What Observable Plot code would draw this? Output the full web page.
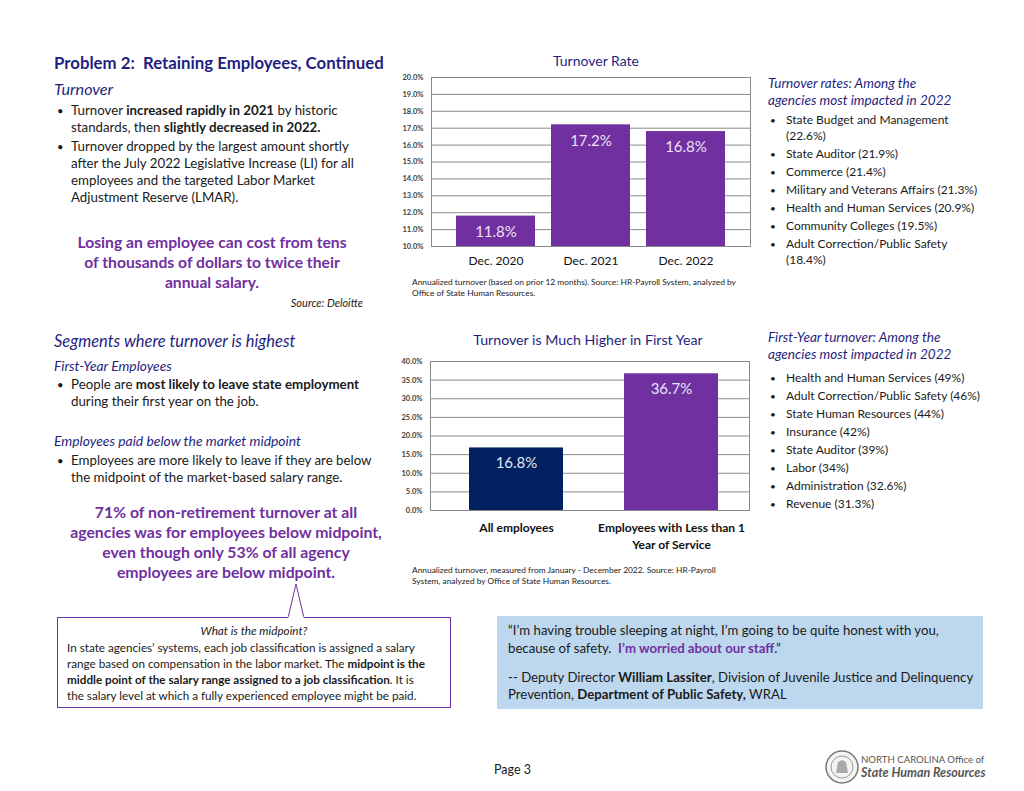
<!DOCTYPE html>
<html>
<head>
<meta charset="utf-8">
<script src="https://cdn.jsdelivr.net/npm/d3@7"></script>
<script src="https://cdn.jsdelivr.net/npm/@observablehq/plot@0.6"></script>
<style>
  html, body { margin: 0; padding: 0; background: #fff; }
  #page { position: relative; width: 1024px; height: 791px; overflow: hidden; font-family: Lato, "Open Sans", sans-serif; color: #1a1a1a; }
  .t { position: absolute; white-space: nowrap; line-height: 1; }
  .navy { color: #1f1f80; }
  .it { font-style: italic; }
  .purple { color: #7030A0; font-weight: bold; }
  .box { position: absolute; box-sizing: border-box; }
  .chart { position: absolute; }
</style>
</head>
<body>
<div id="page"></div>
<script>
// ---------------- data ----------------
const turnoverPeriods = ["Dec. 2020", "Dec. 2021", "Dec. 2022"];
const turnoverRates = [11.8, 17.2, 16.8];
const turnoverTicks = [10, 11, 12, 13, 14, 15, 16, 17, 18, 19, 20];

const segmentGroups = ["All employees", "Employees with Less than 1 Year of Service"];
const segmentTickLabels = ["All employees", "Employees with Less than 1\nYear of Service"];
const segmentRates = [16.8, 36.7];
const segmentTicks = [0, 5, 10, 15, 20, 25, 30, 35, 40];

const agencies2022 = ["State Budget and Management", "(22.6%)", "State Auditor (21.9%)", "Commerce (21.4%)",
  "Military and Veterans Affairs (21.3%)", "Health and Human Services (20.9%)", "Community Colleges (19.5%)",
  "Adult Correction/Public Safety", "(18.4%)"];
const firstYearAgencies = ["Health and Human Services (49%)", "Adult Correction/Public Safety (46%)",
  "State Human Resources (44%)", "Insurance (42%)", "State Auditor (39%)", "Labor (34%)",
  "Administration (32.6%)", "Revenue (31.3%)"];

// ---------------- helpers ----------------
const page = document.getElementById("page");
function txt(x, cy, html, size, cls = "", extra = {}) {
  const d = document.createElement("div");
  d.className = "t " + cls;
  d.style.fontSize = size + "px";
  d.style.top = (cy - size / 2) + "px";
  if (extra.center) { d.style.left = (x - 300) + "px"; d.style.width = "600px"; d.style.textAlign = "center"; }
  else if (extra.right) { d.style.right = (1024 - x) + "px"; }
  else d.style.left = x + "px";
  if (extra.color) d.style.color = extra.color;
  if (extra.weight) d.style.fontWeight = extra.weight;
  d.innerHTML = html;
  page.appendChild(d);
  return d;
}
function bullet(x, tx, cy, html, size) {
  txt(x, cy, "•", size * 0.85);
  txt(tx, cy, html, size);
}

// ---------------- left column ----------------
txt(54, 63, "Problem 2:&nbsp; Retaining Employees, Continued", 16.8, "navy", {weight: "bold"});
txt(54, 89, "Turnover", 16.2, "navy it");
bullet(57, 71, 111, "Turnover <b>increased rapidly in 2021</b> by historic", 13.3);
txt(71, 128, "standards, then <b>slightly decreased in 2022.</b>", 13.3);
bullet(57, 71, 147, "Turnover dropped by the largest amount shortly", 13.3);
txt(71, 164, "after the July 2022 Legislative Increase (LI) for all", 13.3);
txt(71, 181, "employees and the targeted Labor Market", 13.3);
txt(71, 198, "Adjustment Reserve (LMAR).", 13.3);
txt(212, 243, "Losing an employee can cost from tens", 15.7, "purple", {center: true});
txt(212, 263, "of thousands of dollars to twice their", 15.7, "purple", {center: true});
txt(212, 283, "annual salary.", 15.7, "purple", {center: true});
txt(363, 302, "Source: Deloitte", 11, "it", {right: true});

txt(54, 341, "Segments where turnover is highest", 16.5, "navy it");
txt(54, 366, "First-Year Employees", 13.8, "navy it");
bullet(57, 71, 385, "People are <b>most likely to leave state employment</b>", 13.3);
txt(71, 402, "during their first year on the job.", 13.3);
txt(54, 441, "Employees paid below the market midpoint", 13.9, "navy it");
bullet(57, 71, 461, "Employees are more likely to leave if they are below", 13.3);
txt(71, 478, "the midpoint of the market-based salary range.", 13.3);
txt(226, 512, "71% of non-retirement turnover at all", 15.8, "purple", {center: true});
txt(226, 532, "agencies was for employees below midpoint,", 15.8, "purple", {center: true});
txt(226, 552, "even though only 53% of all agency", 15.8, "purple", {center: true});
txt(226, 572, "employees are below midpoint.", 15.8, "purple", {center: true});

// ---------------- right lists ----------------
txt(768, 84, "Turnover rates: Among the", 13.6, "navy it");
txt(768, 101, "agencies most impacted in 2022", 13.6, "navy it");
const l1y = [120, 136, 154, 172, 190, 208, 226, 244, 260];
agencies2022.forEach((a, i) => {
  if (!a.startsWith("(")) txt(770, l1y[i], "•", 10);
  txt(786, l1y[i], a, 12);
});
txt(768, 338, "First-Year turnover: Among the", 13.6, "navy it");
txt(768, 355, "agencies most impacted in 2022", 13.6, "navy it");
firstYearAgencies.forEach((a, i) => {
  txt(770, 378 + i * 18, "•", 10);
  txt(786, 378 + i * 18, a, 12);
});

// ---------------- chart titles / captions ----------------
txt(596, 61, "Turnover Rate", 14, "navy", {center: true});
txt(412, 282, "Annualized turnover (based on prior 12 months). Source: HR-Payroll System, analyzed by", 8.4);
txt(412, 293, "Office of State Human Resources.", 8.4);
txt(588, 340, "Turnover is Much Higher in First Year", 14.2, "navy", {center: true});
txt(412, 570, "Annualized turnover, measured from January - December 2022. Source: HR-Payroll", 8.4);
txt(412, 581, "System, analyzed by Office of State Human Resources.", 8.4);

// ---------------- charts ----------------
const turnoverData = turnoverPeriods.map((p, i) => ({period: p, rate: turnoverRates[i]}));
const chart1 = Plot.plot({
  width: 390, height: 208,
  marginLeft: 51, marginRight: 20, marginTop: 9, marginBottom: 30,
  style: {fontFamily: "Lato, sans-serif", background: "transparent"},
  x: {domain: turnoverPeriods, paddingInner: 0.167, paddingOuter: 0.245, label: null},
  y: {domain: [10, 20], label: null},
  marks: [
    Plot.gridY(turnoverTicks, {stroke: "#8a8a8a", strokeOpacity: 1}),
    Plot.barY(turnoverData, {x: "period", y1: 10, y2: "rate", fill: "#7030A0"}),
    Plot.frame({stroke: "#8a8a8a"}),
    Plot.text(turnoverData, {x: "period", y: "rate", text: d => d.rate.toFixed(1) + "%", dy: 16, fill: "#ece2f6", fontSize: 15}),
    Plot.axisY(turnoverTicks, {tickSize: 0, tickPadding: 8, tickFormat: d => d.toFixed(1) + "%", fontSize: 7.5, fontWeight: "bold", fill: "#404040"}),
    Plot.axisX({tickSize: 0, tickPadding: 10, fontSize: 12, fill: "#111"})
  ]
});
const c1 = document.createElement("div");
c1.className = "chart"; c1.style.left = "380px"; c1.style.top = "68px";
c1.appendChild(chart1); page.appendChild(c1);

const segmentData = segmentGroups.map((g, i) => ({group: g, rate: segmentRates[i]}));
const segColors = ["#002060", "#7030A0"];
const chart2 = Plot.plot({
  width: 390, height: 208,
  marginLeft: 50, marginRight: 21, marginTop: 9, marginBottom: 50,
  style: {fontFamily: "Lato, sans-serif", background: "transparent"},
  x: {domain: segmentGroups, paddingInner: 0.394, paddingOuter: 0.226, align: 0.56, label: null},
  y: {domain: [0, 40], label: null},
  color: {domain: segmentGroups, range: segColors},
  marks: [
    Plot.gridY(segmentTicks, {stroke: "#8a8a8a", strokeOpacity: 1}),
    Plot.barY(segmentData, {x: "group", y: "rate", fill: "group"}),
    Plot.frame({stroke: "#8a8a8a"}),
    Plot.text(segmentData, {x: "group", y: "rate", text: d => d.rate.toFixed(1) + "%", dy: 15, fill: "#e2e8f6", fontSize: 15}),
    Plot.axisY(segmentTicks, {tickSize: 0, tickPadding: 8, tickFormat: d => d.toFixed(1) + "%", fontSize: 7.5, fontWeight: "bold", fill: "#404040"}),
    Plot.axisX({tickSize: 0, tickPadding: 10, fontSize: 12, fontWeight: "bold", fill: "#111", lineHeight: 1.4,
      tickFormat: d => segmentTickLabels[segmentGroups.indexOf(d)]})
  ]
});
const c2 = document.createElement("div");
c2.className = "chart"; c2.style.left = "380px"; c2.style.top = "352px";
c2.appendChild(chart2); page.appendChild(c2);

// ---------------- bottom boxes ----------------
const b1 = document.createElement("div");
b1.className = "box";
Object.assign(b1.style, {left: "57px", top: "617px", width: "394px", height: "91px", border: "1px solid #7030A0"});
page.appendChild(b1);
const ns = "http://www.w3.org/2000/svg";
const tri = document.createElementNS(ns, "svg");
tri.setAttribute("width", "40"); tri.setAttribute("height", "40");
Object.assign(tri.style, {position: "absolute", left: "276px", top: "580px"});
tri.innerHTML = '<path d="M12,38 L20,4 L28,38" fill="#fff" stroke="#7030A0" stroke-width="1"/><line x1="12.5" y1="37.5" x2="27.5" y2="37.5" stroke="#fff" stroke-width="2"/>';
page.appendChild(tri);
txt(254, 631, "What is the midpoint?", 11.7, "it", {center: true});
txt(67, 648, "In state agencies’ systems, each job classification is assigned a salary", 11.7);
txt(67, 664, "range based on compensation in the labor market. The <b>midpoint is the</b>", 11.7);
txt(67, 680, "<b>middle point of the salary range assigned to a job classification</b>. It is", 11.7);
txt(67, 696, "the salary level at which a fully experienced employee might be paid.", 11.7);

const b2 = document.createElement("div");
b2.className = "box";
Object.assign(b2.style, {left: "497px", top: "616px", width: "486px", height: "93px", background: "#bdd7ee"});
page.appendChild(b2);
txt(508, 631, "“I’m having trouble sleeping at night, I’m going to be quite honest with you,", 13.2);
txt(508, 649, "because of safety.&nbsp; <span class='purple'>I’m worried about our staff</span>.”", 13.2);
txt(508, 678, "-- Deputy Director <b>William Lassiter</b>, Division of Juvenile Justice and Delinquency", 13.2);
txt(508, 695, "Prevention, <b>Department of Public Safety,</b> WRAL", 13.2);

// ---------------- footer ----------------
txt(494, 770, "Page 3", 12.5);
const logo = document.createElementNS(ns, "svg");
logo.setAttribute("width", "40"); logo.setAttribute("height", "40");
Object.assign(logo.style, {position: "absolute", left: "824px", top: "747px"});
logo.innerHTML = '<circle cx="18" cy="20" r="16" fill="#f4f4f4" stroke="#777" stroke-width="1.5"/><circle cx="18" cy="20" r="11" fill="none" stroke="#999" stroke-width="1"/><path d="M12,26 L14,15 L18,13 L22,15 L24,26 Z" fill="#aaa"/>';
page.appendChild(logo);
txt(861, 760, "NORTH CAROLINA Office of", 9.6, "", {color: "#555"});
txt(861, 773, "State Human Resources", 12.5, "it", {color: "#555", weight: "bold"});
</script>
</body>
</html>
